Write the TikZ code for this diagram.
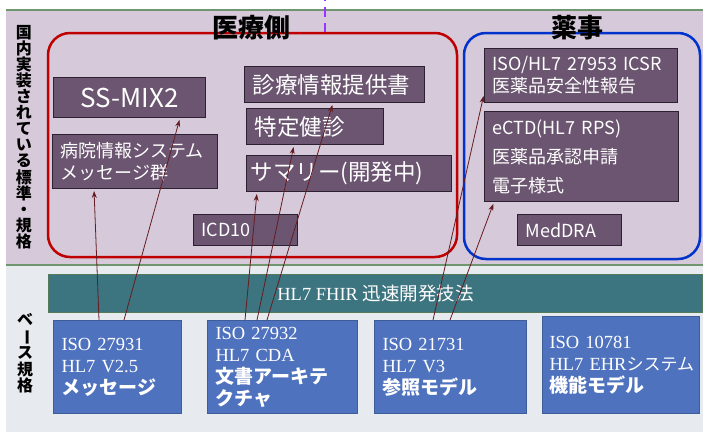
\documentclass[tikz,border=0pt]{standalone}
\usepackage{fontspec}
\setmainfont{Liberation Serif}
\newfontfamily\jp{Noto Sans CJK JP}
\usetikzlibrary{arrows.meta, positioning, calc}

\definecolor{bandtop}{RGB}{214,201,217}
\definecolor{bandbot}{RGB}{231,234,238}
\definecolor{bandline}{RGB}{112,150,112}
\definecolor{medred}{RGB}{192,0,0}
\definecolor{regblue}{RGB}{0,51,204}
\definecolor{stdfill}{RGB}{107,85,112}
\definecolor{stdline}{RGB}{45,32,48}
\definecolor{basefill}{RGB}{79,114,190}
\definecolor{baseline}{RGB}{62,92,152}
\definecolor{fhirfill}{RGB}{60,116,128}
\definecolor{fhirline}{RGB}{84,122,92}
\definecolor{linkcol}{RGB}{100,28,32}
\definecolor{dashcol}{RGB}{153,51,255}

\newcommand{\jbold}[1]{{\jp\bfseries\fontsize{19}{22}\selectfont #1}}

\begin{document}
\begin{tikzpicture}[
    x=1pt, y=-1pt,
    group/.style={rounded corners=22pt, line width=2.5pt},
    stdbox/.style={rectangle, draw=stdline, line width=1pt, fill=stdfill, text=white, anchor=north west, inner xsep=8pt, inner ysep=0pt, align=left},
    bigtext/.style={font=\jp\fontsize{22.5}{27}\selectfont},
    smalltext/.style={font=\jp\fontsize{18}{22}\selectfont},
    basebox/.style={rectangle, draw=baseline, line width=1pt, fill=basefill, text=white, anchor=north west, inner xsep=8pt, inner ysep=0pt, align=left, font=\fontsize{18.5}{22}\selectfont},
    title/.style={font=\jp\bfseries\fontsize{26}{30}\selectfont},
    sidelabel/.style={font=\jp\bfseries\fontsize{16}{16.1}\selectfont, align=center, inner sep=0pt},
    arrow/.style={-{Stealth[length=7pt, width=5pt]}, linkcol, line width=0.8pt, shorten >=2pt}
]
\useasboundingbox (0,0) rectangle (703,432);

% Bands
\fill[bandtop] (6,10) rectangle (703,265);
\fill[bandbot] (6,266) rectangle (703,432);
\draw[bandline, line width=1.5pt] (6,10) -- (703,10);
\draw[bandline, line width=1.5pt] (6,265) -- (703,265);

% Side labels
\node[sidelabel] (domestic) at (24,137) {国\\内\\実\\装\\さ\\れ\\て\\い\\る\\標\\準\\・\\規\\格};
\node[sidelabel] (base) at (25,353) {ベ\\\rotatebox[origin=c]{-90}{ー}\\ス\\規\\格};

% Groups
\draw[group, medred] (48,33) rectangle (457,257);
\draw[group, regblue] (464,33) rectangle (700,259);
\node[title] (medtitle) at (251,28) {医療側};
\node[title] (regtitle) at (577,28) {薬事};

% Domestic standards
\node[stdbox, font=\jp\fontsize{26}{30}\selectfont, minimum width=152, minimum height=40, text width=136, align=center] (ssmix) at (53,77) {SS-MIX2};
\node[stdbox, smalltext, minimum width=165, minimum height=54, text width=149] (hosp) at (52,134) {病院情報システム\\メッセージ群};
\node[stdbox, bigtext, minimum width=180, minimum height=36, text width=164] (shinryo) at (244,66) {診療情報提供書};
\node[stdbox, bigtext, minimum width=137, minimum height=36, text width=121] (kenshin) at (246,108) {特定健診};
\node[stdbox, bigtext, minimum width=205, minimum height=36, inner xsep=4pt, text width=197] (summary) at (246,155) {サマリー(開発中)};
\node[stdbox, smalltext, minimum width=104, minimum height=31, text width=88] (icd) at (193,214) {ICD10};
\node[stdbox, smalltext, minimum width=193, minimum height=54, text width=177] (icsr) at (484,48) {ISO/HL7 27953 ICSR\\医薬品安全性報告};
\node[stdbox, font=\jp\fontsize{18}{29}\selectfont, minimum width=194, minimum height=90, text width=178] (ectd) at (484,111) {eCTD(HL7 RPS)\\医薬品承認申請\\電子様式};
\node[stdbox, smalltext, minimum width=104, minimum height=31, text width=88] (meddra) at (517,214) {MedDRA};

% Base standards
\node[rectangle, draw=fhirline, line width=1pt, fill=fhirfill, text=white, anchor=north west, minimum width=654, minimum height=38, font=\fontsize{18.5}{20}\selectfont] (fhir) at (48,274) {HL7 FHIR {\jp 迅速開発技法}};
\node[basebox, minimum width=128, minimum height=93, text width=112] (b1) at (53,320) {ISO 27931\\HL7 V2.5\\\jbold{メッセージ}};
\node[basebox, minimum width=150, minimum height=93, text width=134] (b2) at (207,320) {ISO 27932\\HL7 CDA\\\jbold{文書アーキテ}\\\jbold{クチャ}};
\node[basebox, minimum width=152, minimum height=93, text width=136] (b3) at (374,320) {ISO 21731\\HL7 V3\\\jbold{参照モデル}};
\node[basebox, minimum width=157, minimum height=97, inner xsep=7pt, text width=143] (b4) at (542,316) {ISO 10781\\\mbox{HL7 EHR{\jp\fontsize{17}{22}\selectfont システム}}\\\jbold{機能モデル}};

% Dashed link from above
\coordinate (dtop) at (325,0);
\coordinate (dbot) at (325,32);
\draw[dashcol, line width=2.5pt, dash pattern=on 10pt off 6pt, dash phase=9pt] (dtop) -- (dbot);

% Arrows
\draw[arrow] ([xshift=46pt]b1.north west) -- ([xshift=42pt]hosp.south west);
\draw[arrow] ([xshift=71pt]b1.north west) -- ([xshift=127pt]ssmix.south west);
\draw[arrow] ([xshift=38pt]b2.north west) -- ([xshift=11pt]summary.south west);
\draw[arrow] ([xshift=50pt]b2.north west) -- ([xshift=48pt]kenshin.south west);
\draw[arrow] ([xshift=60pt]b2.north west) -- ([xshift=89pt]shinryo.south west);
\draw[arrow] ([xshift=59pt]b3.north west) -- ([yshift=9pt]icsr.south west);
\draw[arrow] ([xshift=76pt]b3.north west) -- ([xshift=10pt]ectd.south west);

\end{tikzpicture}
\end{document}
